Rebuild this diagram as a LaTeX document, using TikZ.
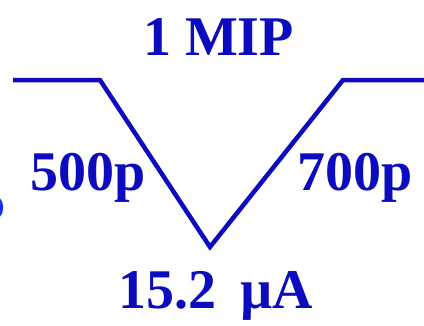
\documentclass[tikz,border=0pt]{standalone}
\usepackage{fontspec}
\setmainfont{Liberation Serif}
\definecolor{ink}{RGB}{12,12,190}
\definecolor{inklight}{RGB}{20,50,230}
\begin{document}
\begin{tikzpicture}[x=1pt,y=-1pt,
  lbl/.style={inner sep=0pt,text=ink,font=\fontsize{56}{60}\selectfont\bfseries},
  wave/.style={draw=ink,line width=4.5pt,line join=miter}]
\useasboundingbox (0,0) rectangle (424,325);
\fill[white] (0,0) rectangle (424,325);
\node[lbl,anchor=base] (mip) at (218.5,55) {1 MIP};
\node[lbl,anchor=base west] (c1) at (30,190) {500p};
\node[lbl,anchor=base west] (c2) at (297,190) {700p};
\node[lbl,anchor=base west] (cur) at (118,308) {15.2\hspace{24pt}µA};
\coordinate (a) at (13,80);
\coordinate (b) at (100,80);
\coordinate (c) at (210,247);
\coordinate (d) at (343,80);
\coordinate (e) at (424,80);
\draw[wave] (a) -- (b) -- (c) -- (d) -- (e);
\draw[draw=inklight,line width=3pt] (-2,198) .. controls (3,203) and (3,212) .. (-2,217);
\end{tikzpicture}
\end{document}
